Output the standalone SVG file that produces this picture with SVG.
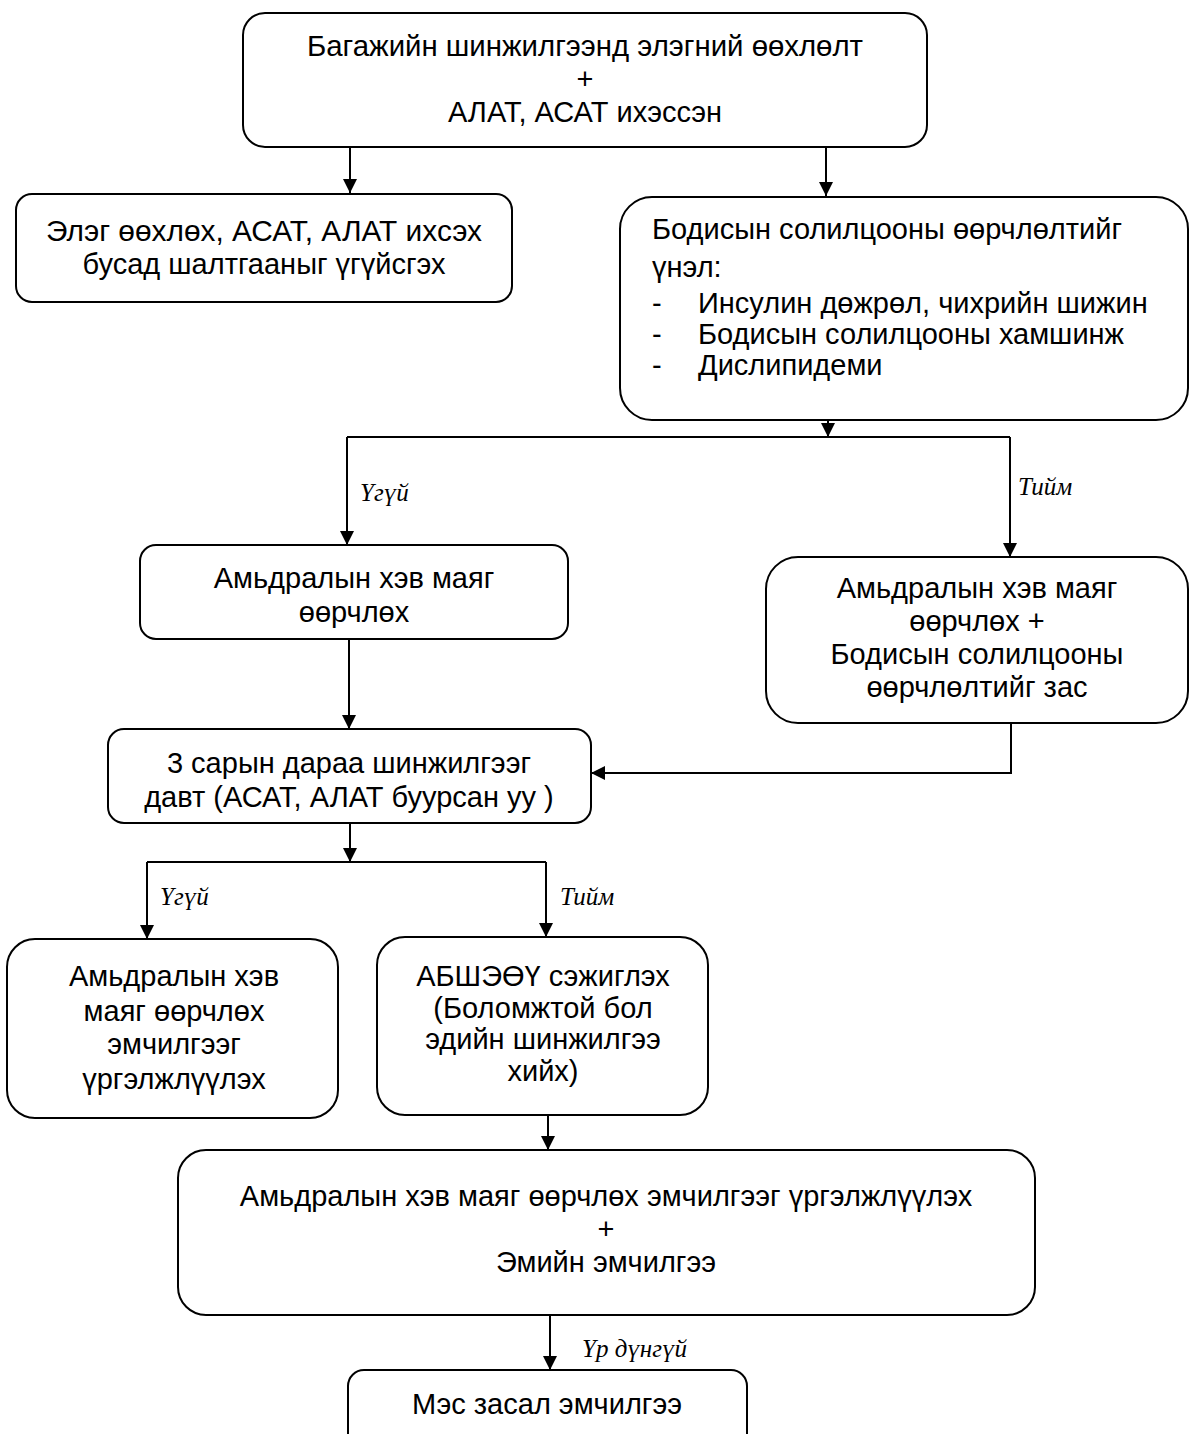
<svg xmlns="http://www.w3.org/2000/svg" width="1191" height="1434" viewBox="0 0 1191 1434">
<style>
  .box { fill: #fff; stroke: #000; stroke-width: 2; }
  .t { font-family: "Liberation Sans", Arial, sans-serif; font-size: 29px; fill: #000; text-anchor: middle; }
  .tl { font-family: "Liberation Sans", Arial, sans-serif; font-size: 29px; fill: #000; }
  .lbl { font-family: "Liberation Serif", "Times New Roman", serif; font-style: italic; font-size: 25px; fill: #000; }
  .c { fill: none; stroke: #000; stroke-width: 2; }
</style>
<defs>
  <marker id="ah" markerUnits="userSpaceOnUse" markerWidth="14" markerHeight="16" refX="14" refY="7" orient="auto">
    <path d="M0,0 L14,7 L0,14 Z" fill="#000"/>
  </marker>
</defs>
<rect width="1191" height="1434" fill="#fff"/>

<g id="connectors">
  <path class="c" d="M350,147 V193" marker-end="url(#ah)"/>
  <path class="c" d="M826,147 V196" marker-end="url(#ah)"/>
  <path class="c" d="M828,420 V437" marker-end="url(#ah)"/>
  <path class="c" d="M347,437 H1010"/>
  <path class="c" d="M347,437 V545" marker-end="url(#ah)"/>
  <path class="c" d="M1010,437 V557" marker-end="url(#ah)"/>
  <path class="c" d="M349,639 V729" marker-end="url(#ah)"/>
  <path class="c" d="M1011,723 V773 H591" marker-end="url(#ah)"/>
  <path class="c" d="M350,823 V862" marker-end="url(#ah)"/>
  <path class="c" d="M147,862 H546"/>
  <path class="c" d="M147,862 V939" marker-end="url(#ah)"/>
  <path class="c" d="M546,862 V937" marker-end="url(#ah)"/>
  <path class="c" d="M548,1115 V1150" marker-end="url(#ah)"/>
  <path class="c" d="M550,1315 V1370" marker-end="url(#ah)"/>
  <text class="lbl" x="360" y="501">Үгүй</text>
  <text class="lbl" x="1018" y="495">Тийм</text>
  <text class="lbl" x="160" y="905">Үгүй</text>
  <text class="lbl" x="560" y="905">Тийм</text>
  <text class="lbl" x="582" y="1357">Үр дүнгүй</text>
</g>

<g id="n1">
  <rect class="box" x="243" y="13" width="684" height="134" rx="22"/>
  <text class="t" x="585" y="56" textLength="556" lengthAdjust="spacingAndGlyphs">Багажийн шинжилгээнд элэгний өөхлөлт</text>
  <text class="t" x="585" y="89">+</text>
  <text class="t" x="585" y="122">АЛАТ, АСАТ ихэссэн</text>
</g>

<g id="n2">
  <rect class="box" x="16" y="194" width="496" height="108" rx="16"/>
  <text class="t" x="264" y="241" textLength="436" lengthAdjust="spacingAndGlyphs">Элэг өөхлөх, АСАТ, АЛАТ ихсэх</text>
  <text class="t" x="264" y="274">бусад шалтгааныг үгүйсгэх</text>
</g>

<g id="n3">
  <rect class="box" x="620" y="197" width="568" height="223" rx="32"/>
  <text class="tl" x="652" y="239">Бодисын солилцооны өөрчлөлтийг</text>
  <text class="tl" x="652" y="277">үнэл:</text>
  <text class="tl" x="652" y="313">-</text>
  <text class="tl" x="698" y="313">Инсулин дөжрөл, чихрийн шижин</text>
  <text class="tl" x="652" y="344">-</text>
  <text class="tl" x="698" y="344">Бодисын солилцооны хамшинж</text>
  <text class="tl" x="652" y="375">-</text>
  <text class="tl" x="698" y="375">Дислипидеми</text>
</g>

<g id="n4">
  <rect class="box" x="140" y="545" width="428" height="94" rx="16"/>
  <text class="t" x="354" y="588">Амьдралын хэв маяг</text>
  <text class="t" x="354" y="622">өөрчлөх</text>
</g>

<g id="n5">
  <rect class="box" x="766" y="557" width="422" height="166" rx="32"/>
  <text class="t" x="977" y="598">Амьдралын хэв маяг</text>
  <text class="t" x="977" y="631">өөрчлөх +</text>
  <text class="t" x="977" y="664">Бодисын солилцооны</text>
  <text class="t" x="977" y="697">өөрчлөлтийг зас</text>
</g>

<g id="n6">
  <rect class="box" x="108" y="729" width="483" height="94" rx="16"/>
  <text class="t" x="349" y="773">3 сарын дараа шинжилгээг</text>
  <text class="t" x="349" y="807">давт (АСАТ, АЛАТ буурсан уу )</text>
</g>

<g id="n7">
  <rect class="box" x="7" y="939" width="331" height="179" rx="28"/>
  <text class="t" x="174" y="986">Амьдралын хэв</text>
  <text class="t" x="174" y="1021">маяг өөрчлөх</text>
  <text class="t" x="174" y="1054">эмчилгээг</text>
  <text class="t" x="174" y="1089">үргэлжлүүлэх</text>
</g>

<g id="n8">
  <rect class="box" x="377" y="937" width="331" height="178" rx="28"/>
  <text class="t" x="543" y="986">АБШЭӨҮ сэжиглэх</text>
  <text class="t" x="543" y="1018">(Боломжтой бол</text>
  <text class="t" x="543" y="1049">эдийн шинжилгээ</text>
  <text class="t" x="543" y="1081">хийх)</text>
</g>

<g id="n9">
  <rect class="box" x="178" y="1150" width="857" height="165" rx="28"/>
  <text class="t" x="606" y="1206">Амьдралын хэв маяг өөрчлөх эмчилгээг үргэлжлүүлэх</text>
  <text class="t" x="606" y="1239">+</text>
  <text class="t" x="606" y="1272">Эмийн эмчилгээ</text>
</g>

<g id="n10">
  <rect class="box" x="348" y="1370" width="399" height="90" rx="16"/>
  <text class="t" x="547" y="1414">Мэс засал эмчилгээ</text>
</g>
</svg>
